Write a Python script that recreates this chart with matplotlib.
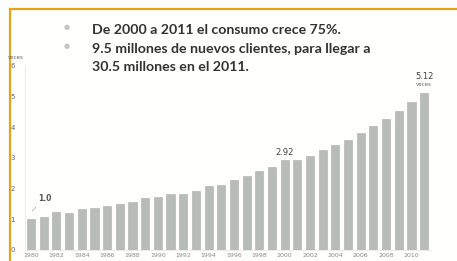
import matplotlib.pyplot as plt
from matplotlib.lines import Line2D

years = list(range(1980, 2012))
values = [1.00, 1.09, 1.23, 1.20, 1.33, 1.36, 1.42, 1.49, 1.56, 1.68,
          1.74, 1.82, 1.83, 1.93, 2.09, 2.12, 2.27, 2.40, 2.56, 2.72,
          2.92, 2.94, 3.07, 3.25, 3.41, 3.59, 3.80, 4.05, 4.27, 4.52,
          4.81, 5.12]
tick_years = years[::2]
bullets = ["De 2000 a 2011 el consumo crece 75%.",
           "9.5 millones de nuevos clientes, para llegar a",
           "30.5 millones en el 2011."]

W, H = 457, 261
fig = plt.figure(figsize=(W / 100, H / 100), dpi=100)
fig.patch.set_facecolor('#fefefc')

# axes placed in pixel terms
left, right, top, bottom = 24.7, 430.5, 66, 250
ax = fig.add_axes([left / W, 1 - bottom / H, (right - left) / W, (bottom - top) / H])
ax.set_facecolor('none')

x = list(range(len(years)))
ax.bar(x, values, width=0.64, color='#b8bcb8', edgecolor='#aaaeaa', linewidth=0.4)
ax.set_xlim(-0.5, len(years) - 0.5)
ax.set_ylim(0, 6)
ax.set_yticks(range(0, 7))
ax.set_yticklabels([str(i) for i in range(0, 7)], fontsize=5, color='#666666')
ax.set_xticks(x[::2])
ax.set_xticklabels([str(y) for y in tick_years], fontsize=4.5, color='#8a8a8a')
ax.tick_params(axis='y', length=0, pad=7)
ax.tick_params(axis='x', length=0, pad=2)
for s in ['top', 'right']:
    ax.spines[s].set_visible(False)
ax.spines['left'].set_color('#e4e4e4')
ax.spines['left'].set_linewidth(0.5)
ax.spines['bottom'].set_color('#e4e4e4')
ax.spines['bottom'].set_linewidth(0.5)

# annotations
ax.annotate('1.0', xy=(-0.1, values[0] + 0.2), xytext=(0.6, 1.6), fontsize=5.5,
            color='#555555', fontweight='bold',
            arrowprops=dict(arrowstyle='-', color='#777777', lw=0.5, linestyle=':'))
ax.text(20, values[20] + 0.12, '2.92', ha='center', va='bottom', fontsize=6, color='#444444')
ax.text(31, 5.5, '5.12', ha='center', va='bottom', fontsize=6, color='#444444')
ax.text(31, 5.3, 'veces', ha='center', va='bottom', fontsize=4, color='#666666')
fig.text(16 / W, 1 - 57 / H, 'veces', fontsize=4, color='#666666', ha='center', va='center')

# bullet text
ys = [30, 49, 67]
for i, (t, yy) in enumerate(zip(bullets, ys)):
    fig.text(92 / W, 1 - yy / H, t, fontsize=10.2, fontweight='bold', color='#333333',
             family='Lato', va='center', ha='left')
    if i < 2:
        fig.text(67 / W, 1 - (yy - 3) / H, '\u25CF', fontsize=5, color='#c4c4c4',
                 va='center', ha='center')

# orange frame
fig.add_artist(Line2D([10 / W, 1], [1 - 9 / H, 1 - 9 / H], color='#e5a21c', lw=1.6,
                      transform=fig.transFigure))
fig.add_artist(Line2D([10 / W, 10 / W], [0, 1 - 9 / H], color='#e5a21c', lw=1.6,
                      transform=fig.transFigure))

fig.savefig('out.png', dpi=100, facecolor=fig.get_facecolor())
